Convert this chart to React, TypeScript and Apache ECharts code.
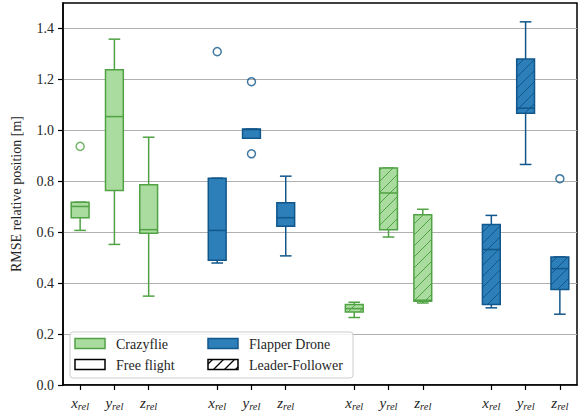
import React, { useEffect, useRef } from "react";
import * as echarts from "echarts";

// ---- data ----
const axisNames = ["x", "y", "z"];
const positions = [0, 1, 2, 4, 5, 6, 8, 9, 10, 12, 13, 14];
const yTicks = [0, 0.2, 0.4, 0.6, 0.8, 1.0, 1.2, 1.4];

// [whiskerLow, q1, median, q3, whiskerHigh] for x_rel, y_rel, z_rel
const crazyflieFree = [
  [0.607, 0.657, 0.701, 0.718, 0.718],
  [0.552, 0.764, 1.054, 1.238, 1.358],
  [0.349, 0.596, 0.61, 0.786, 0.973],
];
const flapperFree = [
  [0.479, 0.49, 0.607, 0.812, 0.812],
  [0.969, 0.969, 1.003, 1.005, 1.005],
  [0.507, 0.623, 0.657, 0.716, 0.82],
];
const crazyflieLF = [
  [0.265, 0.287, 0.3, 0.316, 0.325],
  [0.581, 0.61, 0.754, 0.852, 0.852],
  [0.322, 0.329, 0.333, 0.669, 0.69],
];
const flapperLF = [
  [0.303, 0.316, 0.532, 0.63, 0.666],
  [0.866, 1.067, 1.087, 1.28, 1.426],
  [0.278, 0.375, 0.457, 0.503, 0.503],
];
// outliers: [position, value]
const crazyflieOutliers = [[0, 0.937]];
const flapperOutliers = [
  [4, 1.309],
  [5, 1.191],
  [5, 0.908],
  [14, 0.81],
];

const GREEN_FILL = "#abdc9f";
const GREEN_EDGE = "#50a244";
const BLUE_FILL = "#2c7fb8";
const BLUE_EDGE = "#12578b";
const FONT = "Liberation Serif";
const HATCH = 11;

function hatchSegments(x0: number, y0: number, x1: number, y1: number, s: number) {
  const segs: number[][] = [];
  let k = Math.ceil((x0 + y0) / s) * s;
  for (; k <= x1 + y1; k += s) {
    const xa = Math.max(x0, k - y1);
    const xb = Math.min(x1, k - y0);
    if (xb - xa > 0.5) segs.push([xa, k - xa, xb, k - xb]);
  }
  return segs;
}

function buildBoxData() {
  const groups = [
    { stats: crazyflieFree, c: 0, h: 0, start: 0 },
    { stats: flapperFree, c: 1, h: 0, start: 3 },
    { stats: crazyflieLF, c: 0, h: 1, start: 6 },
    { stats: flapperLF, c: 1, h: 1, start: 9 },
  ];
  const out: number[][] = [];
  groups.forEach((g) => {
    g.stats.forEach((s, i) => {
      out.push([positions[g.start + i], ...s, g.c, g.h]);
    });
  });
  return out;
}

export default function App() {
  const ref = useRef<HTMLDivElement>(null);
  useEffect(() => {
    if (!ref.current) return;
    const chart = echarts.init(ref.current, null, { renderer: "svg" });
    const boxW = 0.52;
    const capW = 0.34;

    const renderItem = (params: any, api: any) => {
      const pos = api.value(0);
      const lo = api.value(1), q1 = api.value(2), med = api.value(3), q3 = api.value(4), hi = api.value(5);
      const c = api.value(6), h = api.value(7);
      const fill = c === 0 ? GREEN_FILL : BLUE_FILL;
      const edge = c === 0 ? GREEN_EDGE : BLUE_EDGE;
      const cx = api.coord([pos, med])[0];
      const hw = api.size([boxW, 0])[0] / 2;
      const cw = api.size([capW, 0])[0] / 2;
      const yLo = api.coord([pos, lo])[1];
      const yQ1 = api.coord([pos, q1])[1];
      const yMed = api.coord([pos, med])[1];
      const yQ3 = api.coord([pos, q3])[1];
      const yHi = api.coord([pos, hi])[1];
      const ls = { stroke: edge, lineWidth: 1.5 };
      const children: any[] = [
        { type: "line", shape: { x1: cx, y1: yQ1, x2: cx, y2: yLo }, style: ls },
        { type: "line", shape: { x1: cx, y1: yQ3, x2: cx, y2: yHi }, style: ls },
        { type: "line", shape: { x1: cx - cw, y1: yLo, x2: cx + cw, y2: yLo }, style: ls },
        { type: "line", shape: { x1: cx - cw, y1: yHi, x2: cx + cw, y2: yHi }, style: ls },
        {
          type: "rect",
          shape: { x: cx - hw, y: yQ3, width: 2 * hw, height: Math.max(yQ1 - yQ3, 0.5) },
          style: { fill, stroke: edge, lineWidth: 1.5 },
        },
      ];
      if (h) {
        hatchSegments(cx - hw, yQ3, cx + hw, yQ1, HATCH).forEach((sg) => {
          children.push({
            type: "line",
            shape: { x1: sg[0], y1: sg[1], x2: sg[2], y2: sg[3] },
            style: { stroke: edge, lineWidth: 1 },
          });
        });
      }
      children.push({
        type: "line",
        shape: { x1: cx - hw, y1: yMed, x2: cx + hw, y2: yMed },
        style: { stroke: edge, lineWidth: 1.5 },
      });
      return { type: "group", children };
    };

    // legend graphics
    const lx = 70, ly = 332;
    const legendEls: any[] = [
      {
        type: "rect",
        shape: { x: lx, y: ly, width: 283, height: 46, r: 3 },
        style: { fill: "rgba(255,255,255,0.85)", stroke: "#cccccc", lineWidth: 1 },
      },
    ];
    const patches = [
      { x: 75, y: 338.5, fill: GREEN_FILL, stroke: GREEN_EDGE, hatch: false, text: "Crazyflie" },
      { x: 208, y: 338.5, fill: BLUE_FILL, stroke: BLUE_EDGE, hatch: false, text: "Flapper Drone" },
      { x: 75, y: 359.5, fill: "#ffffff", stroke: "#000000", hatch: false, text: "Free flight" },
      { x: 208, y: 359.5, fill: "#ffffff", stroke: "#000000", hatch: true, text: "Leader-Follower" },
    ];
    patches.forEach((p) => {
      legendEls.push({
        type: "rect",
        shape: { x: p.x, y: p.y, width: 30, height: 10 },
        style: { fill: p.fill, stroke: p.stroke, lineWidth: 1.5 },
      });
      if (p.hatch) {
        hatchSegments(p.x, p.y, p.x + 30, p.y + 10, HATCH).forEach((sg) => {
          legendEls.push({
            type: "line",
            shape: { x1: sg[0], y1: sg[1], x2: sg[2], y2: sg[3] },
            style: { stroke: "#000", lineWidth: 1.2 },
          });
        });
      }
      legendEls.push({
        type: "text",
        x: p.x + 41,
        y: p.y + 5.5,
        style: {
          text: p.text,
          font: `14px "${FONT}"`,
          fill: "#262626",
          textVerticalAlign: "middle",
          verticalAlign: "middle",
        },
      });
    });

    const labelFor = (v: number) => {
      const idx = positions.indexOf(Math.round(v));
      if (idx < 0) return "";
      return `{i|${axisNames[idx % 3]}}{s|rel}`;
    };

    chart.setOption({
      animation: false,
      grid: {
        left: 63,
        right: 2,
        top: 3,
        bottom: 28,
        show: true,
        borderColor: "#000",
        borderWidth: 1.5,
        backgroundColor: "transparent",
      },
      xAxis: {
        type: "value",
        min: -0.5,
        max: 14.5,
        axisLine: { show: true, onZero: false, lineStyle: { color: "#000", width: 1.5 } },
        axisTick: {
          show: true,
          customValues: positions,
          length: 5,
          lineStyle: { color: "#000", width: 1.2 },
        },
        axisLabel: {
          customValues: positions,
          margin: 10,
          formatter: labelFor,
          rich: {
            i: { fontFamily: FONT, fontStyle: "italic", fontSize: 15, lineHeight: 14, color: "#262626", verticalAlign: "top" },
            s: { fontFamily: FONT, fontStyle: "italic", fontSize: 10.5, lineHeight: 10, padding: [6, 0, 0, 0], color: "#262626", verticalAlign: "top" },
          },
        },
        splitLine: { show: false },
      },
      yAxis: {
        type: "value",
        min: 0,
        max: 1.5,
        interval: 0.2,
        name: "RMSE relative position [m]",
        nameLocation: "middle",
        nameGap: 40,
        nameTextStyle: { fontFamily: FONT, fontSize: 14, color: "#262626" },
        axisLine: { show: true, onZero: false, lineStyle: { color: "#000", width: 1.5 } },
        axisTick: { show: true, customValues: yTicks, length: 5, lineStyle: { color: "#000", width: 1.2 } },
        axisLabel: {
          customValues: yTicks,
          margin: 9,
          fontFamily: FONT,
          fontSize: 14,
          color: "#262626",
          formatter: (v: number) => v.toFixed(1),
        },
        splitLine: { show: true, lineStyle: { color: "#b0b0b0", width: 1.2 } },
      },
      series: [
        {
          type: "custom",
          renderItem,
          data: buildBoxData(),
          encode: { x: 0, y: [1, 2, 3, 4, 5] },
          z: 3,
        },
        {
          type: "scatter",
          data: crazyflieOutliers,
          symbol: "circle",
          symbolSize: 8,
          itemStyle: { color: "rgba(0,0,0,0)", borderColor: GREEN_EDGE, borderWidth: 1.5 },
          z: 4,
        },
        {
          type: "scatter",
          data: flapperOutliers,
          symbol: "circle",
          symbolSize: 8,
          itemStyle: { color: "rgba(0,0,0,0)", borderColor: BLUE_EDGE, borderWidth: 1.5 },
          z: 4,
        },
      ],
      graphic: { elements: legendEls.map((e) => ({ ...e, z: 100 })) },
    });
    return () => chart.dispose();
  }, []);
  return (
    <div
      ref={ref}
      style={{ position: "fixed", left: 0, top: 0, width: 579, height: 413, background: "#fff" }}
    />
  );
}
